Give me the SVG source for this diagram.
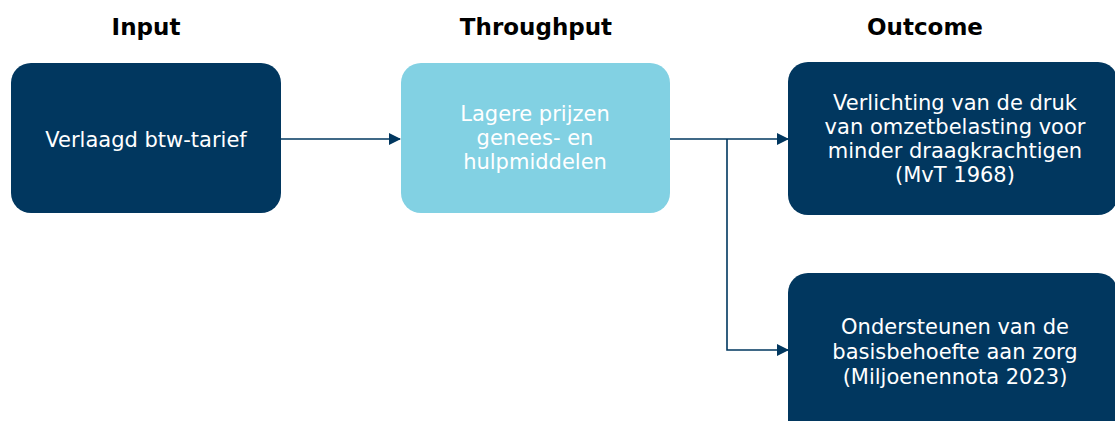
<svg xmlns="http://www.w3.org/2000/svg" width="1115" height="421" viewBox="0 0 1115 421">
<style>
.hdr{font-family:"DejaVu Sans","Liberation Sans",sans-serif;font-size:23px;font-weight:bold;fill:#000;text-anchor:middle}
.dark{fill:#01375f}
.light{fill:#82d1e3}
.t{font-family:"DejaVu Sans","Liberation Sans",sans-serif;font-size:21px;fill:#fff;text-anchor:middle}
.c{fill:none;stroke:#01375f;stroke-width:1.6}
</style>
<defs>
<marker id="ah" markerWidth="12" markerHeight="12" refX="11" refY="6" orient="auto" markerUnits="userSpaceOnUse">
<path d="M0,0 L12,6 L0,12 Z" fill="#01375f"/>
</marker>
</defs>
<rect width="1115" height="421" fill="#fff"/>
<g id="headers">
<text class="hdr" x="146" y="35">Input</text>
<text class="hdr" x="536" y="35">Throughput</text>
<text class="hdr" x="925" y="35">Outcome</text>
</g>
<g id="connectors">
<path class="c" d="M281,139 H400" marker-end="url(#ah)"/>
<path class="c" d="M670,139 H788" marker-end="url(#ah)"/>
<path class="c" d="M727,139 V350 H788" marker-end="url(#ah)"/>
</g>
<g id="node-input">
<rect class="dark" x="11" y="63" width="270" height="150" rx="20"/>
<text class="t" x="146" y="147">Verlaagd btw-tarief</text>
</g>
<g id="node-throughput">
<rect class="light" x="401" y="63" width="269" height="150" rx="20"/>
<text class="t" x="535" y="121">Lagere prijzen</text>
<text class="t" x="535" y="145">genees- en</text>
<text class="t" x="535" y="169">hulpmiddelen</text>
</g>
<g id="node-outcome1">
<rect class="dark" x="788" y="62" width="330" height="153" rx="20"/>
<text class="t" x="955" y="110">Verlichting van de druk</text>
<text class="t" x="955" y="134">van omzetbelasting voor</text>
<text class="t" x="955" y="158">minder draagkrachtigen</text>
<text class="t" x="955" y="182">(MvT 1968)</text>
</g>
<g id="node-outcome2">
<rect class="dark" x="788" y="273" width="330" height="170" rx="20"/>
<text class="t" x="955" y="334">Ondersteunen van de</text>
<text class="t" x="955" y="359">basisbehoefte aan zorg</text>
<text class="t" x="955" y="384">(Miljoenennota 2023)</text>
</g>
</svg>
